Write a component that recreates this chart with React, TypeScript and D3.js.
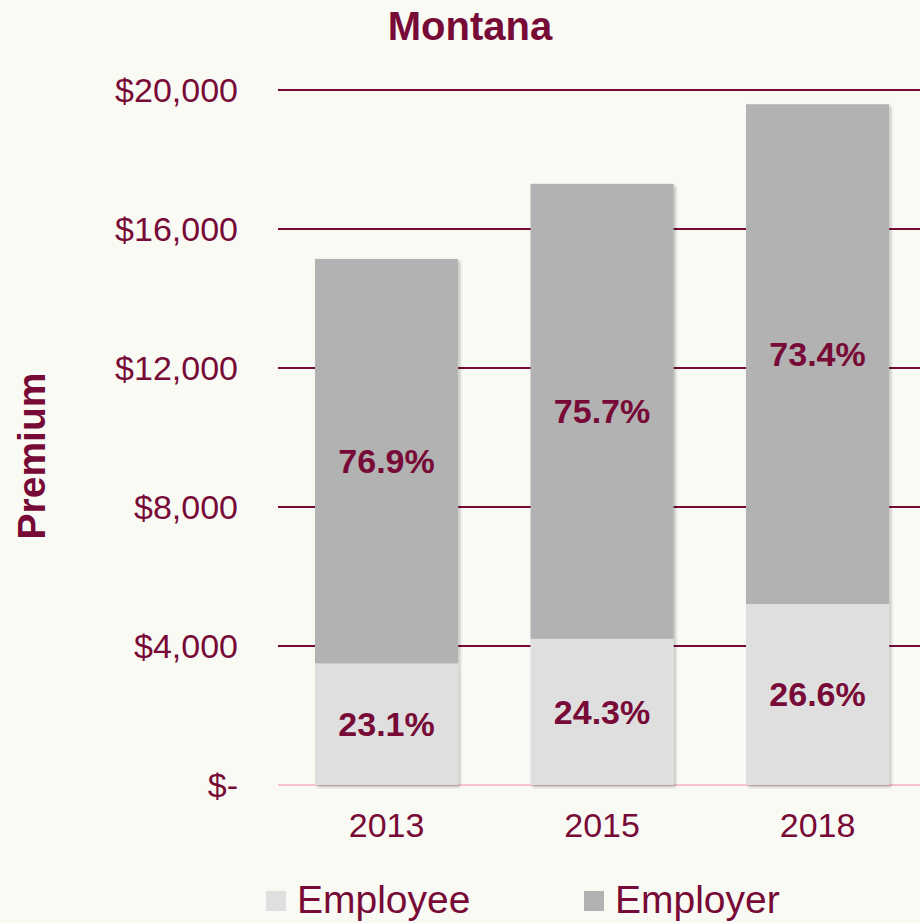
import * as React from 'react';
import {scaleBand, scaleLinear, stack as d3Stack} from 'd3';

const years = ['2013', '2015', '2018'];
const employee = [3500, 4210, 5210];
const employer = [11640, 13090, 14380];
const yTicks = [0, 4000, 8000, 12000, 16000, 20000];
const seriesNames = ['Employee', 'Employer'];

const MAROON = '#770a36';
const COLORS: {[k: string]: string} = {Employee: '#dfdfdf', Employer: '#b2b2b2'};
const FONT = '"Liberation Sans", Arial, sans-serif';

function tickLabel(v: number) {
  return v === 0 ? '$-' : `$${v.toLocaleString('en-US')}`;
}

export default function App() {
  const width = 920;
  const height = 923;

  const x = scaleBand<string>()
    .domain(years)
    .range([278.8, 925.3])
    .paddingInner(0.336)
    .paddingOuter(0.168);
  const y = scaleLinear().domain([0, 20000]).range([785, 90]);

  const rows = years.map((yr, i) => ({year: yr, Employee: employee[i], Employer: employer[i]}));
  const layers = d3Stack<any>().keys(seriesNames)(rows);

  return (
    <svg width={width} height={height} style={{position: 'absolute', left: 0, top: 0, background: '#fafaf5'}}
         fontFamily={FONT}>
      <defs>
        <filter id="barShadow" x="-10%" y="-10%" width="130%" height="130%">
          <feDropShadow dx="2" dy="2" stdDeviation="1.5" floodColor="#000" floodOpacity="0.25" />
        </filter>
      </defs>
      <rect width={width} height={height} fill="#fafaf5" />

      <text x={470} y={40} textAnchor="middle" fontSize={40} fontWeight="bold" fill={MAROON}>Montana</text>

      {/* gridlines + y labels */}
      {yTicks.map((t) => (
        <g key={t}>
          <line x1={278} x2={920} y1={y(t)} y2={y(t)}
                stroke={t === 0 ? '#f7c3d5' : MAROON} strokeWidth={2} />
          <text x={238} y={y(t)} dy="0.35em" textAnchor="end" fontSize={34} fill={MAROON}>{tickLabel(t)}</text>
        </g>
      ))}

      <text transform={`translate(31, 456) rotate(-90)`} textAnchor="middle" dy="0.35em"
            fontSize={39} fontWeight="bold" fill={MAROON}>Premium</text>

      {/* bars */}
      <g filter="url(#barShadow)">
        {layers.map((layer) => layer.map((d, i) => (
          <rect key={layer.key + i} x={x(years[i])} width={x.bandwidth()}
                y={y(d[1])} height={y(d[0]) - y(d[1])} fill={COLORS[layer.key]} />
        )))}
      </g>

      {/* percent labels */}
      {layers.map((layer) => layer.map((d, i) => {
        const total = employee[i] + employer[i];
        const pct = ((d[1] - d[0]) / total * 100).toFixed(1) + '%';
        return (
          <text key={'l' + layer.key + i} x={x(years[i])! + x.bandwidth() / 2} y={(y(d[0]) + y(d[1])) / 2}
                dy="0.35em" textAnchor="middle" fontSize={34} fontWeight="bold" fill={MAROON}>{pct}</text>
        );
      }))}

      {/* x labels */}
      {years.map((yr) => (
        <text key={yr} x={x(yr)! + x.bandwidth() / 2} y={837} textAnchor="middle" fontSize={34} fill={MAROON}>{yr}</text>
      ))}

      {/* legend */}
      {seriesNames.map((s, i) => {
        const lx = [266, 584][i];
        return (
          <g key={s}>
            <rect x={lx} y={891} width={20} height={20} fill={COLORS[s]} />
            <text x={lx + 31} y={913} fontSize={39} fill={MAROON}>{s}</text>
          </g>
        );
      })}
    </svg>
  );
}
